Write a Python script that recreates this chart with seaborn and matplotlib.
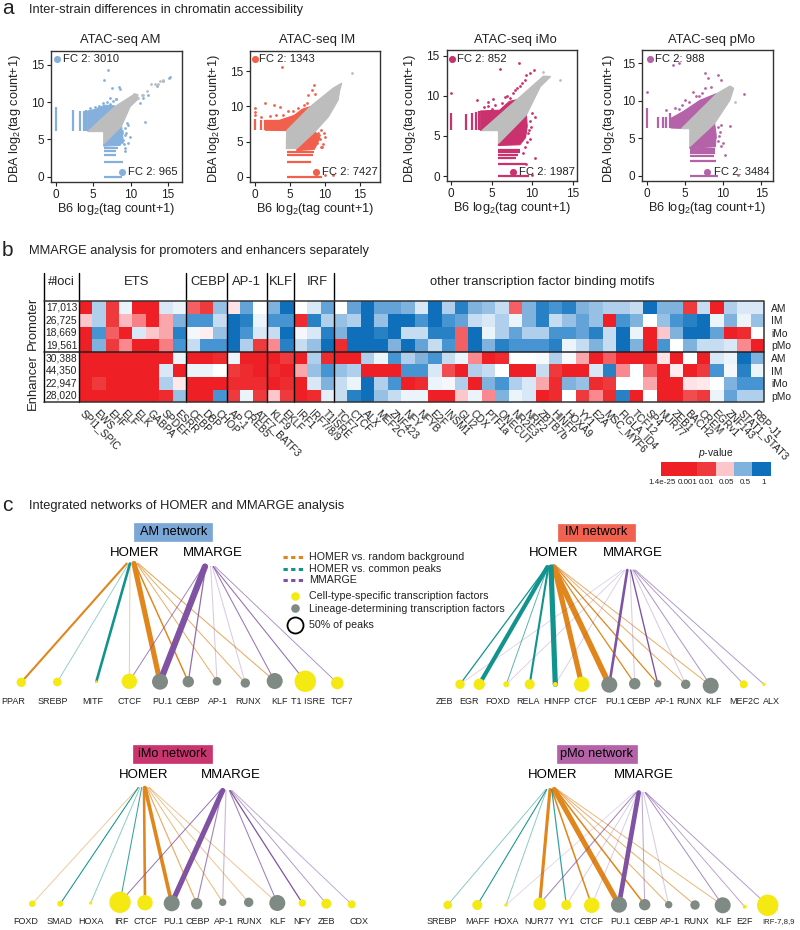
import numpy as np
import pandas as pd
import matplotlib
matplotlib.use("Agg")
import matplotlib.pyplot as plt
from matplotlib.colors import LinearSegmentedColormap
import seaborn as sns

# ---- panel a: strain scatter ----
gray_cloud = "#bdbdbd"

am_cloud_x = [4.3, 6.4, 6.4, 8.8, 9.95, 10.9, 11.0, 10.5, 10.4, 7.9]
am_cloud_y = [6.05, 6.05, 4.4, 6.8, 9.4, 10.3, 11.0, 11.15, 11.0, 9.4]
am_up_x = [4.2, 4.2, 5.5, 6.5, 7.9]
am_up_y = [6.1, 8.8, 9.1, 9.6, 9.5]
am_low_x = [6.4, 8.8, 9.0, 8.6, 6.4]
am_low_y = [4.4, 6.8, 5.0, 4.2, 4.1]
am_vx = [0, 2.3, 3.2, 3.7, 4.05]
am_vtop = [9.3, 8.9, 8.8, 8.8, 9.0]
am_hy = [0, 2, 2.9, 3.5, 3.9]
am_hright = [8.9, 9.0, 8.0, 8.0, 8.3]
am_out_x = [7.0, 6.4, 7.5, 8.4, 8.6, 7.3, 8.1, 12.4, 13.5, 14.4, 15.1, 15.3, 12.0, 9.5, 9.3, 9.7, 8.8, 9.0, 9.3,
            9.9, 11.7, 11.2, 4.6, 5.2, 5.8, 6.3, 6.9, 7.6, 8.1, 8.9, 9.2, 9.4, 8.8, 9.1, 9.6, 9.2, 8.7, 7.2, 5.6]
am_out_y = [14.35, 13.0, 11.9, 12.0, 11.7, 10.5, 10.4, 11.0, 12.1, 12.8, 13.2, 13.4, 7.4, 7.2, 6.5, 6.9, 5.8, 4.9, 3.8,
            5.3, 10.6, 9.9, 9.2, 9.4, 9.5, 9.9, 10.0, 10.1, 10.4, 6.1, 5.6, 5.9, 4.6, 4.4, 4.5, 3.4, 5.4, 9.8, 9.2]
am_gray_x = [11.0, 11.5, 11.7, 12.2, 12.8, 13.3, 13.7, 14.0, 14.3]
am_gray_y = [10.5, 10.9, 11.0, 11.5, 12.4, 12.5, 12.5, 12.8, 13.0]

im_cloud_x = [4.5, 4.55, 7.9, 11.2, 12.4, 12.1, 11.9, 10.5, 8.6, 6.0, 4.5]
im_cloud_y = [4.0, 6.55, 9.95, 12.6, 13.3, 12.2, 10.9, 8.5, 6.4, 4.0, 4.0]
im_up_x = [4.55, 7.9, 6.8, 5.6, 3.5, 1.5, 1.5]
im_up_y = [6.55, 9.95, 9.6, 8.7, 8.0, 8.0, 6.6]
im_low_x = [6.0, 8.6, 9.3, 8.5, 6.0]
im_low_y = [4.0, 6.4, 5.5, 3.9, 3.7]
im_vx = [0, 0.9, 1.45, 1.9, 2.3, 2.6, 2.9]
im_vtop = [8.2, 8.0, 8.0, 8.0, 8.0, 8.0, 8.0]
im_hy = [0, 2.13, 3.1, 3.55]
im_hright = [9.6, 8.0, 8.3, 8.5]
im_out_x = [3.9, 8.4, 8.1, 7.6, 8.6, 1.5, 2.7, 3.6, 0, 0, 9.0, 9.3, 10.0, 9.8, 9.6, 11.2, 10.0, 0, 9.1, 0.9, 2.2, 3.1, 4.1,
            4.8, 5.5, 6.2, 7.0, 7.5, 9.5, 9.9, 8.9, 9.4, 8.5]
im_out_y = [15.6, 13.0, 12.3, 11.6, 11.8, 10.5, 10.2, 9.95, 9.8, 9.2, 6.2, 5.4, 5.7, 4.7, 4.2, 0.2, 0.2, 8.8, 5.9, 8.5, 8.6, 8.7, 8.8,
            9.3, 9.4, 9.7, 10.2, 10.4, 6.6, 6.2, 4.8, 4.2, 4.3]
im_gray_x = [13.8]
im_gray_y = [14.8]

imo_cloud_x = [3.8, 5.85, 5.85, 9.3, 11.0, 12.3, 11.4, 8.1]
imo_cloud_y = [5.65, 5.65, 4.05, 7.6, 11.1, 12.4, 12.45, 9.5]
imo_up_x = [3.8, 8.1, 7.2, 6.0, 3.6, 3.6]
imo_up_y = [5.7, 9.5, 9.3, 8.2, 8.1, 5.7]
imo_low_x = [5.85, 9.3, 9.4, 9.2, 8.5, 5.85]
imo_low_y = [4.05, 7.6, 6.2, 4.8, 3.9, 3.8]
imo_vx = [0, 1.8, 2.6, 3.1, 3.5]
imo_vtop = [7.9, 7.7, 7.9, 8.0, 8.1]
imo_hy = [0, 1.5, 2.2, 2.6, 3.0, 3.3]
imo_hright = [9.6, 9.2, 8.0, 8.3, 8.5, 8.5]
imo_out_x = [0, 8.4, 6.0, 10.2, 9.3, 9.7, 8.5, 8.2, 3.2, 4.6, 5.2, 4.6, 6.9, 7.3, 9.1, 10.0, 10.4, 9.5, 9.1, 10.4, 9.3, 10.0, 7.9, 6.3,
             5.4, 6.6, 7.6, 8.8, 9.7, 9.9, 9.6, 9.7, 9.4, 8.9, 4.1, 5.0]
imo_out_y = [10.4, 14.1, 13.3, 13.2, 12.6, 12.8, 11.2, 11.0, 9.45, 9.2, 9.6, 8.7, 10.0, 9.7, 11.95, 7.8, 7.4, 5.3, 3.65, 2.2, 1.5, 0.1, 10.7, 9.1,
             8.9, 9.8, 10.3, 11.6, 6.9, 6.1, 5.7, 4.6, 4.3, 2.9, 8.6, 8.3]
imo_gray_x = [13.4, 11.4]
imo_gray_y = [12.0, 12.9]

pmo_cloud_x = [4.55, 5.65, 5.65, 8.9, 10.9, 11.4, 10.9, 9.2]
pmo_cloud_y = [6.3, 6.3, 3.9, 7.0, 10.1, 11.7, 12.0, 11.0]
pmo_up_x = [4.55, 9.2, 7.0, 4.8, 3.2, 3.2]
pmo_up_y = [6.35, 11.0, 10.1, 8.6, 7.7, 6.4]
pmo_low_x = [5.65, 8.9, 9.1, 9.0, 5.65]
pmo_low_y = [3.9, 7.0, 5.5, 3.9, 3.7]
pmo_vx = [0, 1.5, 2.2, 2.6, 3.0]
pmo_vtop = [9.0, 7.8, 7.9, 7.9, 8.4]
pmo_hy = [0, 2.0, 2.6, 3.0, 3.3, 3.6]
pmo_hright = [9.3, 9.1, 8.8, 9.0, 9.0, 9.0]
pmo_out_x = [0, 3.45, 4.2, 7.6, 9.4, 8.1, 9.8, 12.7, 7.6, 6.1, 5.0, 3.7, 2.6, 10.9, 10.0, 10.3, 12.0, 8.9, 6.8, 9.6,
             4.2, 5.6, 6.5, 7.2, 8.4, 9.5, 9.3, 9.7, 9.4, 9.8, 4.6]
pmo_out_y = [11.2, 14.8, 15.1, 13.7, 13.5, 13.0, 12.8, 10.9, 11.7, 11.2, 10.1, 9.0, 8.8, 6.7, 4.4, 2.8, 0.1, 5.2, 10.7, 5.9,
             8.9, 9.9, 10.6, 11.0, 11.8, 5.3, 4.6, 4.0, 6.5, 6.8, 9.4]
pmo_gray_x = [11.6]
pmo_gray_y = [9.9]

# ---- panel b: MMARGE heatmap, code 0 = strongest red, 5 = white, 10 = dark blue ----
motifs = ["SPI1_SPIC", "EWS", "EHF", "ELF", "ELK", "GABPA", "SPDEF", "ESRR",
          "CEBP", "DBP", "CHOP", "AP-1", "CREB5", "ATF7_BATF3", "KLF9", "EKLF",
          "IRF1", "IRF7/8/9", "T1ISRE", "TCF7", "CTCF", "ALX", "MEF2C", "ZNF423",
          "NFY", "NFYB", "E2F", "INSM1", "GLI2", "CDX", "PTF1a", "ONECUT",
          "NR2E3", "NRF2", "ZBTB7b", "HINFP", "HOXA9", "YY1", "E2A", "MSC_MYF6",
          "FIGLA_ID4", "TCF12", "SP4", "NUR77", "ZEB1", "BACH2", "CREM", "EGRv1",
          "ZNF143", "STAT1_STAT3", "RBP-J1"]
row_cells = ["AM", "IM", "iMo", "pMo", "AM", "IM", "iMo", "pMo"]
row_loci = ["17,013", "26,725", "18,669", "19,561", "30,388", "44,350", "22,947", "28,020"]
prom_am = [0, 7, 1, 5.5, 0, 0, 6, 5.5, 2, 1, 7.5, 4.5, 8.5, 5, 8, 10, 5, 6, 8.5,
           5, 8.5, 10, 8.5, 8.5, 8, 6, 10, 7, 9.5, 8, 7.5, 6.5, 2,
           8, 9.5, 9, 9.5, 8, 7.5, 7, 7, 6.5, 10, 8, 8, 1, 6.5, 0, 7, 6, 6]
prom_im = [4, 7, 1, 3.8, 2.8, 0, 3.5, 8, 9, 9, 6.5, 10, 9.5, 5.5, 9, 9, 0.5, 9.5, 7,
           7.5, 7, 10, 7.5, 10, 10, 9, 10, 9, 8.5, 6.5, 6, 7, 5.5,
           8, 9.5, 6.5, 7.5, 8.5, 7.5, 0, 9, 8, 5, 7.5, 9, 9.5, 10, 5.5, 8, 5.5, 7.5]
prom_imo = [0, 9, 2, 0, 6, 4, 3.5, 9.5, 5.3, 4.7, 7.5, 10, 9, 6, 6.5, 10, 5.3, 6, 9.5,
            8, 10, 10, 9.5, 10, 6.5, 6.5, 9.5, 9.5, 2, 10, 5.5, 7, 8.5,
            7, 7, 9, 9, 8.5, 9.5, 6.5, 10, 5.5, 0, 4, 8, 10, 10, 8.5, 0, 0.5, 5]
prom_pmo = [0, 8, 1, 3, 0, 0, 2.7, 9, 6.5, 9, 9, 10, 7, 1, 3, 9.5, 6.5, 7.5, 10,
            0.5, 10, 10, 10, 8, 10, 8.5, 6.5, 9, 2, 10, 8, 9.5, 9,
            9, 9, 9.5, 5.5, 6.5, 8, 6.5, 10, 8, 0, 9, 5, 8, 6.5, 6.5, 6, 3, 0]
enh_am = [0, 0, 0, 0, 0, 0, 0, 5.5, 0, 0, 0.5, 5.5, 0, 0, 0, 1, 0, 7, 0.5,
          0, 0, 7, 5.5, 9, 7, 8, 9, 6.5, 5.5, 3, 0, 0.5, 5,
          5, 5.2, 7, 5.2, 3.5, 0, 2, 0, 0, 0, 4.5, 0, 5, 0, 6, 5.5, 10, 8]
enh_im = [0, 0, 0, 0, 0, 0, 6, 0, 5.5, 5.5, 5, 1, 0.5, 0, 0.5, 0, 3.5, 7.5, 9,
          7.5, 7, 0, 0, 0, 9, 9, 6, 1.5, 0, 7, 6.5, 5, 0,
          0, 6.5, 1, 0, 0, 6, 9.5, 3, 5, 2, 0, 4.7, 0, 1, 9, 5.3, 9.5, 5.5]
enh_imo = [0, 1, 0, 0, 0, 0, 7, 4.6, 0, 0, 0, 0.5, 0.5, 0.5, 0, 0.5, 0, 6, 8,
           6.5, 5.5, 10, 7, 9, 0, 0.5, 5.5, 5.3, 7, 0, 8, 9, 7,
           6, 3.5, 0.5, 8, 7.5, 0.5, 1, 5, 5, 3.5, 0, 0, 4.5, 4.6, 5, 8, 9, 9]
enh_pmo = [0, 0, 0, 0, 0, 0, 0.5, 7.5, 0, 0, 9, 1, 5.5, 1, 4, 1, 0, 0.5, 5.7,
           6.5, 9.5, 10, 7.5, 6.5, 5.5, 5.5, 0, 0, 4, 5.5, 3, 8, 5.5,
           6, 0, 0.5, 5, 1, 3, 0.5, 9.5, 0, 5, 0, 0, 1.5, 1, 5.5, 8.5, 7, 7]
group_names = ["ETS", "CEBP", "AP-1", "KLF", "IRF", "other transcription factor binding motifs"]
group_sizes = [8, 3, 3, 2, 3, 32]
pvalue_labels = ["1.4e-25", "0.001", "0.01", "0.05", "0.5", "1"]
pvalue_codes = [0, 0, 1, 4, 8, 10]
code_colors = ["#ee1f25", "#ef3b3d", "#f35f63", "#f98a8f", "#fcc6cb", "#ffffff",
               "#d9e8f6", "#b1d0ec", "#80b2de", "#4795d2", "#0f6fba"]

# ---- panel c: networks; each edge is (tf, start x in px, width, alpha) ----
am_tfs = ["PPAR", "SREBP", "MITF", "CTCF", "PU.1", "CEBP", "AP-1", "RUNX", "KLF", "T1 ISRE", "TCF7"]
am_node_x = [21.3, 57.3, 96.3, 129.3, 160, 188.3, 217, 245.3, 274.7, 305.3, 337.3]
am_node_y = [682.3, 682, 681.7, 681.3, 681.7, 681.7, 681.3, 683, 681, 681.3, 683]
am_radius = [4.7, 4.3, 1.3, 7.7, 8, 5.7, 4.3, 4.7, 8, 10.7, 6.3]
am_lineage = [0, 0, 0, 0, 1, 1, 1, 1, 1, 0, 0]
am_label_x = [13, 53, 93, 130, 162, 188, 218, 248, 279, 308, 342]
am_bg = [("PPAR", 126.7, 2, 1), ("CTCF", 130, 1, .4), ("PU.1", 134, 5, 1), ("CEBP", 135, 1.4, 1),
         ("AP-1", 136.7, .9, .7), ("RUNX", 137.3, .9, .7), ("KLF", 138.3, 1, .7)]
am_common = [("SREBP", 128.7, .8, .5), ("MITF", 130, 2.5, 1)]
am_mmarge = [("CTCF", 203.3, .9, .75), ("PU.1", 205, 6, 1), ("CEBP", 205.7, 1.2, .85), ("AP-1", 210.7, 1, .3),
             ("RUNX", 212.3, 1, .3), ("KLF", 213.3, 1, .8), ("T1 ISRE", 213.3, 1, .85), ("TCF7", 215, .8, .7)]

im_tfs = ["ZEB", "EGR", "FOXD", "RELA", "HINFP", "CTCF", "PU.1", "CEBP", "AP-1", "RUNX", "KLF", "MEF2C", "ALX"]
im_node_x = [460, 479.3, 506.3, 529.7, 555.3, 581.7, 609.3, 634.7, 657.7, 685.7, 710.7, 743.7, 764]
im_node_y = [684.3, 684.3, 684.3, 684.3, 684.3, 684.3, 684.7, 683.7, 683.7, 684.3, 685.7, 684.3, 684.3]
im_radius = [4.7, 5.7, 3, 5, 2.3, 7.7, 8, 5.7, 3.7, 4.7, 8, 4, 1.7]
im_lineage = [0, 0, 0, 0, 0, 0, 1, 1, 1, 1, 1, 0, 0]
im_label_x = [444, 469, 498, 528, 557, 586, 615, 639, 665, 689, 713, 745, 771]
im_bg = [("CTCF", 554.3, 5, 1), ("PU.1", 553.3, 5.5, 1), ("CEBP", 555, 1.2, 1), ("AP-1", 556, 1.2, 1),
         ("RUNX", 556.7, .9, .7), ("KLF", 557.3, .9, .7)]
im_common = [("ZEB", 546.7, 1.2, 1), ("EGR", 547.3, 4, 1), ("FOXD", 547.7, .9, .7), ("RELA", 548.3, 2, 1),
             ("HINFP", 551, 5, 1)]
im_mmarge = [("ZEB", 622, .7, .3), ("FOXD", 624, .8, .3), ("HINFP", 625, .8, .3), ("PU.1", 627.3, 2.5, 1),
             ("CEBP", 630, 1, .3), ("AP-1", 630.7, 1.3, 1), ("RUNX", 632.3, 1, .3), ("KLF", 633.3, 1, .6),
             ("MEF2C", 634.3, .9, .6), ("ALX", 635.3, .9, .6)]

imo_tfs = ["FOXD", "SMAD", "HOXA", "IRF", "CTCF", "PU.1", "CEBP", "AP-1", "RUNX", "KLF", "NFY", "ZEB", "CDX"]
imo_node_x = [32.3, 60.3, 90.7, 120, 145, 171.7, 196.7, 222.7, 248.7, 277.3, 302.3, 326.3, 351.7]
imo_node_y = [903.7, 903.7, 903, 902.3, 902.7, 903.3, 903.7, 902.3, 902.3, 903, 903, 903.7, 904.3]
imo_radius = [3.3, 3, 1.7, 10.7, 7.7, 8, 5.7, 3.7, 4.7, 8, 3.7, 5, 4]
imo_lineage = [0, 0, 0, 0, 0, 1, 1, 1, 1, 1, 0, 0, 0]
imo_label_x = [26, 60, 91, 121, 145, 173, 198, 224, 249, 277, 302, 327, 359]
imo_bg = [("FOXD", 138.3, .9, .45), ("CTCF", 144, 2.5, 1), ("PU.1", 145, 3.5, 1), ("CEBP", 146.7, 1.1, .7),
          ("AP-1", 147.7, .9, .6), ("RUNX", 149, .9, .5), ("KLF", 149.3, .9, .5)]
imo_common = [("SMAD", 138.3, 1, 1), ("HOXA", 140, .9, .5), ("IRF", 141.7, 1, .85)]
imo_mmarge = [("IRF", 220, .9, .85), ("PU.1", 222.7, 5, 1), ("CEBP", 222.3, 1.1, .7), ("AP-1", 226, 1.1, .4),
              ("KLF", 229.3, 1, .75), ("NFY", 230, 1.2, 1), ("ZEB", 231, .9, .6), ("CDX", 232, .9, .5)]

pmo_tfs = ["SREBP", "MAFF", "HOXA", "NUR77", "YY1", "CTCF", "PU.1", "CEBP", "AP-1", "RUNX", "KLF", "E2F", "IRF-7,8,9"]
pmo_node_x = [447.7, 477.3, 506, 539.7, 566.3, 591.7, 619, 644.7, 668.7, 695, 722.7, 744.7, 767.7]
pmo_node_y = [905, 905, 905, 904, 905, 905.3, 904.7, 904.7, 904.7, 905, 905.3, 906.7, 905.3]
pmo_radius = [4.3, 5, 1.7, 6.3, 5, 7.7, 8, 5.7, 3.7, 4.7, 8, 2, 10.7]
pmo_lineage = [0, 0, 0, 0, 0, 0, 1, 1, 1, 1, 1, 0, 0]
pmo_label_x = [441.7, 477.7, 506, 539, 566, 592, 620.7, 646, 670, 695.7, 723, 744.7, 778.7]
pmo_bg = [("NUR77", 550, 3, 1), ("CTCF", 551.7, 1.5, 1), ("PU.1", 554.3, 5, 1), ("CEBP", 555.7, 1.5, 1),
          ("AP-1", 556.7, .9, .7), ("RUNX", 556.7, .9, .7), ("KLF", 557.3, .9, .6)]
pmo_common = [("SREBP", 545.7, .9, .5), ("MAFF", 546.7, 1, 1), ("HOXA", 546.7, .9, .5), ("YY1", 551.7, 1.2, .85)]
pmo_mmarge = [("HOXA", 634.3, .8, .25), ("NUR77", 636, 1, .7), ("YY1", 636.7, .9, .3), ("CTCF", 637.7, .9, .3),
              ("PU.1", 638.7, 4.5, 1), ("CEBP", 642, 1, .5), ("AP-1", 643.3, 1, .3), ("KLF", 645, .9, .7),
              ("E2F", 645.7, .8, .6), ("IRF-7,8,9", 645.7, .9, .6)]

sns.set_theme(style="ticks")
plt.rcParams["font.family"] = ["Liberation Sans", "DejaVu Sans"]
plt.rcParams["mathtext.fontset"] = "custom"
plt.rcParams["mathtext.rm"] = "Liberation Sans"
plt.rcParams["mathtext.it"] = "Liberation Sans:italic"
plt.rcParams["mathtext.default"] = "regular"

W, H = 800, 930
fig = plt.figure(figsize=(8, 9.3), dpi=100)


def px_axes(x0, y0, x1, y1):
    return fig.add_axes([x0 / W, 1 - y1 / H, (x1 - x0) / W, (y1 - y0) / H])


orange = "#e0861c"
teal = "#11938e"
purple = "#7f52a3"
yellow = "#f5e914"
node_gray = "#808a84"
ink = "#222222"

# full-figure layer for text, lines and networks, in pixels
top = px_axes(0, 0, W, H)
top.set_xlim(0, W)
top.set_ylim(H, 0)
top.axis("off")
top.patch.set_alpha(0)
top.set_zorder(5)


def scatter_panel(box, xlim, ylim, color, title, title_x, label_x, cloud, up, low, vx, vtop, vbase,
                  hy, hright, hbase, out, gray, fc_top, fc_bottom):
    ax = px_axes(*box)
    ax.fill(up[0], up[1], color=color, lw=0.8, zorder=1)
    ax.fill(low[0], low[1], color=color, lw=0.8, zorder=1)
    ax.vlines(vx, vbase, vtop, colors=color, lw=1.6, zorder=1)
    ax.hlines(hy, hbase, hright, colors=color, lw=1.6, zorder=1)
    ax.fill(cloud[0], cloud[1], color=gray_cloud, lw=0.8, zorder=2)
    sns.scatterplot(x=out[0], y=out[1], color=color, s=4, linewidth=0, ax=ax, zorder=3)
    sns.scatterplot(x=gray[0], y=gray[1], color=gray_cloud, s=4, linewidth=0, ax=ax, zorder=3)
    ax.scatter([fc_top[0], fc_bottom[0]], [fc_top[1], fc_bottom[1]], s=26, color=color, linewidth=0, zorder=4)
    ax.text(fc_top[2], fc_top[1], fc_top[3], fontsize=8.1, va="center", color=ink, zorder=4)
    ax.text(fc_bottom[2], fc_bottom[1], fc_bottom[3], fontsize=8.1, va="center", color=ink, zorder=4)
    ax.set_xlim(xlim)
    ax.set_ylim(ylim)
    ax.set_xticks([0, 5, 10, 15])
    ax.set_yticks([0, 5, 10, 15])
    ax.tick_params(labelsize=8.5, length=3, width=0.8, pad=2, colors=ink)
    for s in ax.spines.values():
        s.set_linewidth(1)
        s.set_color("#333333")
    ax.set_xlabel(r"B6 log$_2$(tag count+1)", fontsize=9.2, color=ink, labelpad=0)
    ax.set_ylabel(r"DBA log$_2$(tag count+1)", fontsize=9.2, color=ink)
    ax.yaxis.set_label_coords((label_x - box[0]) / (box[2] - box[0]), 0.48)
    top.text(title_x, 40, title, fontsize=9.4, ha="center", va="center", color=ink)


scatter_panel((51, 50.7, 182, 181.7), (-0.67, 16.9), (-0.67, 16.9), "#86b0dc", "ATAC-seq AM", 120, 22.7,
              (am_cloud_x, am_cloud_y), (am_up_x, am_up_y), (am_low_x, am_low_y), am_vx, am_vtop, 6.1,
              am_hy, am_hright, 6.4, (am_out_x, am_out_y), (am_gray_x, am_gray_y),
              (0.1, 15.8, 1.0, "FC 2: 3010"), (8.8, 0.6, 9.7, "FC 2: 965"))
scatter_panel((250, 50.7, 380, 181.7), (-0.67, 17.85), (-0.71, 17.9), "#f0604c", "ATAC-seq IM", 316.7, 221.7,
              (im_cloud_x, im_cloud_y), (im_up_x, im_up_y), (im_low_x, im_low_y), im_vx, im_vtop, 6.6,
              im_hy, im_hright, 4.6, (im_out_x, im_out_y), (im_gray_x, im_gray_y),
              (0.0, 16.7, 0.67, "FC 2: 1343"), (8.8, 0.6, 9.55, "FC 2: 7427"))
scatter_panel((446.7, 50, 576.7, 181), (-0.53, 15.5), (-0.62, 15.7), "#c9326f", "ATAC-seq iMo", 515.7, 418,
              (imo_cloud_x, imo_cloud_y), (imo_up_x, imo_up_y), (imo_low_x, imo_low_y), imo_vx, imo_vtop, 5.7,
              imo_hy, imo_hright, 5.85, (imo_out_x, imo_out_y), (imo_gray_x, imo_gray_y),
              (0.1, 14.55, 0.8, "FC 2: 852"), (7.7, 0.45, 8.4, "FC 2: 1987"))
scatter_panel((642, 50, 772.7, 181), (-0.6, 16.5), (-0.67, 16.8), "#b563a8", "ATAC-seq pMo", 711.7, 616.7,
              (pmo_cloud_x, pmo_cloud_y), (pmo_up_x, pmo_up_y), (pmo_low_x, pmo_low_y), pmo_vx, pmo_vtop, 6.4,
              pmo_hy, pmo_hright, 5.7, (pmo_out_x, pmo_out_y), (pmo_gray_x, pmo_gray_y),
              (0.4, 15.6, 1.05, "FC 2: 988"), (7.9, 0.5, 8.8, "FC 2: 3484"))

# section headers
for letter, text, y in [("a", "Inter-strain differences in chromatin accessibility", 10),
                        ("b", "MMARGE analysis for promoters and enhancers separately", 251),
                        ("c", "Integrated networks of HOMER and MMARGE analysis", 506)]:
    top.text(2, y - 1, letter, fontsize=15, va="center", color=ink)
    top.text(29, y, text, fontsize=9.3, va="center", color=ink)

# heatmap
code_cmap = LinearSegmentedColormap.from_list("codes", code_colors)
table = pd.DataFrame([prom_am, prom_im, prom_imo, prom_pmo, enh_am, enh_im, enh_imo, enh_pmo], columns=motifs)
hx0, hx1, hy0, hy1 = 78.7, 764, 301.3, 402.3
hm = px_axes(hx0, hy0, hx1, hy1)
sns.heatmap(table, ax=hm, cmap=code_cmap, vmin=0, vmax=10, cbar=False, xticklabels=True, yticklabels=row_cells)
hm.tick_params(axis="x", length=0, pad=4)
hm.set_xticklabels(motifs, rotation=-45, ha="left", va="top", rotation_mode="anchor", fontsize=7.4, color=ink)
hm.yaxis.tick_right()
hm.tick_params(axis="y", length=0, pad=5)
hm.set_yticklabels(row_cells, rotation=0, fontsize=7.4, color=ink)
cell_w = (hx1 - hx0) / len(motifs)
row_h = (hy1 - hy0) / len(row_cells)

for i, loci in enumerate(row_loci):
    top.text(61.5, hy0 + (i + 0.5) * row_h, loci, fontsize=7.4, ha="center", va="center", color=ink)
top.text(33, 323, "Promoter", fontsize=9.4, rotation=90, ha="center", va="center", color=ink)
top.text(33, 382, "Enhancer", fontsize=9.4, rotation=90, ha="center", va="center", color=ink)
top.text(61, 282, "#loci", fontsize=9.4, ha="center", va="center", color=ink)

edges_x = [hx0]
for n in group_sizes:
    edges_x.append(edges_x[-1] + n * cell_w)
group_label_x = [136.7, 208, 246.7, 281, 317.7, 542.7]
for i, name in enumerate(group_names):
    top.text(group_label_x[i], 281.5, name, fontsize=9.4, ha="center", va="center", color=ink)
    if i < len(group_names) - 1:
        top.plot([edges_x[i + 1]] * 2, [273, hy1], color="black", lw=1)
top.plot([hx0, hx0], [273, hy1], color="black", lw=1)
top.plot([44.3, 44.3], [273, hy1], color="black", lw=1)
top.plot([44.3, hx1, hx1, 44.3], [hy0, hy0, hy1, hy1], color="#333333", lw=1.1)
top.plot([44.3, hx1], [hy0 + 4 * row_h] * 2, color="#222222", lw=1.1)

# p-value key
key = px_axes(660.7, 461.7, 770.7, 475.7)
sns.heatmap(pd.DataFrame([pvalue_codes]), ax=key, cmap=code_cmap, vmin=0, vmax=10, cbar=False,
            xticklabels=False, yticklabels=False)
key.set_xticks([0.07, 1.45, 2.5, 3.6, 4.6, 5.6])
key.set_xticklabels(pvalue_labels, fontsize=5.8, color=ink)
key.tick_params(axis="x", length=0, pad=2.5)
top.text(716, 453.3, r"$\mathit{p}$-value", fontsize=7.4, ha="center", va="center", color=ink)


def network(title, color, box, homer_x, mmarge_x, head_y, tfs, node_x, node_y, radius, lineage, label_x, label_y,
            bg, common, mmarge, start_y):
    top.fill([box[0], box[1], box[1], box[0]], [box[2], box[2], box[3], box[3]], color=color, lw=0.5)
    top.text((box[0] + box[1]) / 2, (box[2] + box[3]) / 2, title, fontsize=9.2, ha="center", va="center", color="black")
    top.text(homer_x, head_y, "HOMER", fontsize=9.5, ha="center", va="center", color="black")
    top.text(mmarge_x, head_y, "MMARGE", fontsize=9.5, ha="center", va="center", color="black")
    spot = {t: (x, y) for t, x, y in zip(tfs, node_x, node_y)}
    for group, col, sy in [(bg, orange, start_y), (common, teal, start_y), (mmarge, purple, start_y + 3)]:
        for tf, x0, width, alpha in group:
            top.plot([x0, spot[tf][0]], [sy, spot[tf][1]], color=col, lw=width * 0.75, alpha=alpha,
                     solid_capstyle="round", zorder=2)
    nodes = pd.DataFrame({"x": node_x, "y": node_y, "size": [(2 * r * 0.72) ** 2 for r in radius],
                          "kind": ["lineage" if v else "cell" for v in lineage]})
    for kind, col in [("cell", yellow), ("lineage", node_gray)]:
        part = nodes[nodes["kind"] == kind]
        sns.scatterplot(x=part["x"].tolist(), y=part["y"].tolist(), s=part["size"].tolist(), color=col,
                        linewidth=0, ax=top, zorder=3, legend=False)
    for t, x in zip(tfs, label_x):
        size = 5.6 if t == "IRF-7,8,9" else 6.5
        top.text(x, label_y, t, fontsize=size, ha="center", va="center", color=ink)


network("AM network", "#7ba7d7", (134.3, 212.3, 523.3, 540.7), 135, 213, 553, am_tfs, am_node_x, am_node_y,
        am_radius, am_lineage, am_label_x, 701, am_bg, am_common, am_mmarge, 563.5)
network("IM network", "#f0614f", (557.7, 635.3, 524, 540.7), 553.3, 633.3, 553, im_tfs, im_node_x, im_node_y,
        im_radius, im_lineage, im_label_x, 701, im_bg, im_common, im_mmarge, 567)
network("iMo network", "#c9356f", (132.7, 212, 745.3, 762.7), 144, 231, 775.3, imo_tfs, imo_node_x, imo_node_y,
        imo_radius, imo_lineage, imo_label_x, 921.7, imo_bg, imo_common, imo_mmarge, 787.5)
network("pMo network", "#b563a8", (556.7, 637, 745.3, 762.7), 552.3, 644, 775.3, pmo_tfs, pmo_node_x, pmo_node_y,
        pmo_radius, pmo_lineage, pmo_label_x, 921.7, pmo_bg, pmo_common, pmo_mmarge, 789.5)

# network key
for y, col, text in [(557.3, orange, "HOMER vs. random background"),
                     (568.7, teal, "HOMER vs. common peaks"),
                     (580, purple, "MMARGE")]:
    top.plot([282.7, 304], [y, y], color=col, lw=2.2, linestyle=(0, (1.4, 1.1)))
    top.text(309, y, text, fontsize=7.7, va="center", color=ink)
top.scatter([294.7], [596], s=(2 * 4.3 * 0.72) ** 2, color=yellow, linewidth=0)
top.scatter([294.7], [608], s=(2 * 4.3 * 0.72) ** 2, color=node_gray, linewidth=0)
top.scatter([295], [625], s=(2 * 8 * 0.72) ** 2, facecolor="white", edgecolor="black", linewidth=1.3)
top.text(309, 596, "Cell-type-specific transcription factors", fontsize=7.7, va="center", color=ink)
top.text(309, 608.6, "Lineage-determining transcription factors", fontsize=7.7, va="center", color=ink)
top.text(309, 625, "50% of peaks", fontsize=7.7, va="center", color=ink)
top.set_xlim(0, W)
top.set_ylim(H, 0)

fig.savefig("out.png", dpi=100)
